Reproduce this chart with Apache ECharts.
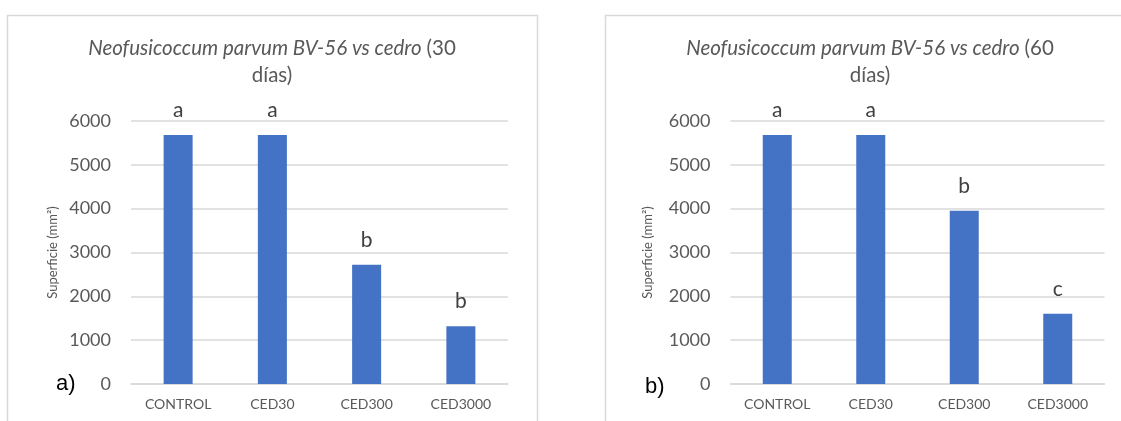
<!DOCTYPE html>
<html>
<head>
<meta charset="utf-8">
<script src="https://cdn.jsdelivr.net/npm/echarts@6/dist/echarts.min.js"></script>
<style>
html,body{margin:0;padding:0;background:#fff;}
#chart{width:1121px;height:421px;}
</style>
</head>
<body>
<div id="chart"></div>
<script>
const categories = ['CONTROL', 'CED30', 'CED300', 'CED3000'];
const values30 = [5680, 5680, 2720, 1320];
const values60 = [5680, 5680, 3950, 1600];
const letters30 = ['a', 'a', 'b', 'b'];
const letters60 = ['a', 'a', 'b', 'c'];
const yMin = 0, yMax = 6000, yInterval = 1000;
const yAxisName = 'Superficie (mm²)';
const panelLabels = ['a)', 'b)'];
const titleDays = ['30', '60'];

const FONT = 'Lato';
const GREY = '#595959';
const GRID_COLOR = '#d9d9d9';
const BAR_COLOR = '#4472C4';

const chart = echarts.init(document.getElementById('chart'), null, {renderer: 'canvas'});

function makeTitle(days, center) {
  return {
    text: '{i|Neofusicoccum parvum BV-56 vs cedro} {n|(' + days + '}\n{n|días)}',
    left: center,
    top: 35,
    textAlign: 'center',
    padding: 0,
    textStyle: {
      fontWeight: 'normal',
      rich: {
        i: {fontFamily: FONT, fontStyle: 'italic', fontWeight: 'normal', fontSize: 20.5, color: GREY, lineHeight: 27},
        n: {fontFamily: FONT, fontWeight: 'normal', fontSize: 20.5, color: GREY, lineHeight: 27}
      }
    }
  };
}

function makeYAxis(gridIndex, gap) {
  return {
    type: 'value', gridIndex: gridIndex, min: yMin, max: yMax, interval: yInterval,
    name: yAxisName, nameLocation: 'middle', nameGap: gap, nameRotate: 90,
    nameTextStyle: {fontFamily: FONT, fontSize: 13, color: GREY},
    axisLine: {show: false}, axisTick: {show: false},
    axisLabel: {fontFamily: FONT, fontSize: 18, color: GREY, margin: 20, formatter: v => String(v)},
    splitLine: {lineStyle: {color: GRID_COLOR, width: 1.5}}
  };
}

function makeXAxis(gridIndex) {
  return {
    type: 'category', gridIndex: gridIndex, data: categories,
    axisLine: {lineStyle: {color: GRID_COLOR, width: 1.5}},
    axisTick: {show: false},
    axisLabel: {fontFamily: FONT, fontSize: 14, color: GREY, margin: 13}
  };
}

function makeSeries(idx, values, letters) {
  return {
    type: 'bar', xAxisIndex: idx, yAxisIndex: idx, barWidth: 29,
    data: values,
    itemStyle: {color: BAR_COLOR},
    label: {
      show: true, position: 'top', distance: 14,
      fontFamily: FONT, fontSize: 21, color: '#404040',
      formatter: p => letters[p.dataIndex]
    },
    animation: false
  };
}

chart.setOption({
  animation: false,
  title: [makeTitle(titleDays[0], 272), makeTitle(titleDays[1], 870)],
  grid: [
    {left: 131, top: 121, width: 377, height: 263},
    {left: 730.5, top: 121, width: 374, height: 263}
  ],
  xAxis: [makeXAxis(0), makeXAxis(1)],
  yAxis: [makeYAxis(0, 72), makeYAxis(1, 76)],
  series: [makeSeries(0, values30, letters30), makeSeries(1, values60, letters60)],
  graphic: [
    {type: 'rect', silent: true, z: -1, shape: {x: 7.5, y: 15.5, width: 530, height: 440},
     style: {fill: 'none', stroke: GRID_COLOR, lineWidth: 1.5}},
    {type: 'rect', silent: true, z: -1, shape: {x: 605.5, y: 15.5, width: 530, height: 440},
     style: {fill: 'none', stroke: GRID_COLOR, lineWidth: 1.5}},
    {type: 'text', silent: true, x: 56, y: 384,
     style: {text: panelLabels[0], font: '22px "Liberation Sans"', fill: '#000', verticalAlign: 'middle'}},
    {type: 'text', silent: true, x: 645, y: 387,
     style: {text: panelLabels[1], font: '22px "Liberation Sans"', fill: '#000', verticalAlign: 'middle'}}
  ]
});
</script>
</body>
</html>
